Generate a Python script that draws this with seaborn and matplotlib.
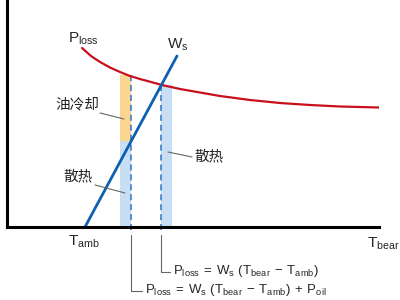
import matplotlib

matplotlib.use("Agg")
import matplotlib.pyplot as plt
import seaborn as sns

# P_loss curve (x = temperature, y = power, arbitrary units)
ploss_x = [75, 84, 93, 103, 113, 123, 133, 144, 155, 173, 193, 213, 243, 273, 303, 333, 372]
ploss_y = [179, 171, 165, 159.5, 155, 151, 148, 145, 142, 138, 134.5, 131, 127, 124, 122, 120.5, 119.5]

# W_s line: starts at T_amb
ws_x = [78, 170]
ws_y = [0, 171]

# operating points
t_oil = 124       # with oil cooling
t_nat = 154       # natural heat dissipation only
p_oil_top = 152   # P_loss at t_oil
ws_at_oil = 86    # W_s at t_oil
p_nat = 142       # P_loss at t_nat
bar_w = 11

RED = "#c8101c"
BLUE = "#0d5fb0"
DASH = "#2f73c4"
ORANGE = "#fbd690"
LIGHT = "#c7def4"
GRAY = "#666666"

sns.set_theme(style="white")
plt.rcParams["font.family"] = ["Liberation Sans", "Noto Sans CJK SC", "DejaVu Sans"]
plt.rcParams["mathtext.fontset"] = "custom"
plt.rcParams["mathtext.rm"] = "Liberation Sans"

fig = plt.figure(figsize=(4, 3), dpi=100)
ax = fig.add_axes([7 / 400, 73 / 300, 372 / 400, 227 / 300])
ax.set_xlim(0, 372)
ax.set_ylim(0, 227)

# bars
ax.bar(t_oil - bar_w, ws_at_oil, width=bar_w, align="edge", color=LIGHT, lw=0)
ax.bar(t_oil - bar_w, p_oil_top - ws_at_oil, width=bar_w, bottom=ws_at_oil, align="edge", color=ORANGE, lw=0)
ax.bar(t_nat, p_nat, width=bar_w, align="edge", color=LIGHT, lw=0)

# dashed verticals
ax.plot([t_oil, t_oil], [p_oil_top, -3], color=DASH, lw=1.1, ls=(0, (4, 2.5)), clip_on=False)
ax.plot([t_nat, t_nat], [p_nat, -3], color=DASH, lw=1.1, ls=(0, (4, 2.5)), clip_on=False)

sns.lineplot(x=ploss_x, y=ploss_y, color=RED, lw=1.6, ax=ax)
sns.lineplot(x=ws_x, y=ws_y, color=BLUE, lw=2.0, ax=ax)

# axes
for side in ["top", "right"]:
    ax.spines[side].set_visible(False)
for side in ["left", "bottom"]:
    ax.spines[side].set_color("black")
    ax.spines[side].set_linewidth(2.2)
ax.set_xticks([])
ax.set_yticks([])

fs = 9.5
ax.text(61, 188, r"$\mathrm{P_{loss}}$", fontsize=11, ha="left", va="center")
ax.text(160, 182, r"$\mathrm{W_s}$", fontsize=11, ha="left", va="center")
ax.text(61, -15, r"$\mathrm{T_{amb}}$", fontsize=11, ha="left", va="center", clip_on=False)
ax.text(360, -17, r"$\mathrm{T_{bear}}$", fontsize=11, ha="left", va="center", clip_on=False)

# callouts
cjk = ["Noto Sans CJK SC", "DejaVu Sans"]
ax.text(48, 123, "油冷却", fontsize=10.5, family=cjk, ha="left", va="center", color="#222222")
ax.plot([93, 117], [114, 108], color=GRAY, lw=0.8)
ax.text(56, 51, "散热", fontsize=10.5, family=cjk, ha="left", va="center", color="#222222")
ax.plot([88, 118], [42, 34], color=GRAY, lw=0.8)
ax.text(187, 71, "散热", fontsize=10.5, family=cjk, ha="left", va="center", color="#222222")
ax.plot([161, 185], [75, 70], color=GRAY, lw=0.8)

# formula leaders below the axis
ax.plot([t_oil, t_oil, t_oil + 11], [-8, -64, -64], color=GRAY, lw=0.8, clip_on=False)
ax.plot([t_nat, t_nat, t_nat + 9], [-8, -45, -45], color=GRAY, lw=0.8, clip_on=False)
ax.text(t_nat + 12, -44, r"$\mathrm{P_{loss}\,=\,W_s\ (T_{bear}\,-\,T_{amb})}$",
        fontsize=fs, ha="left", va="center", clip_on=False)
ax.text(t_oil + 14, -63, r"$\mathrm{P_{loss}\,=\,W_s\ (T_{bear}\,-\,T_{amb})\,+\,P_{oil}}$",
        fontsize=fs, ha="left", va="center", clip_on=False)

fig.savefig("out.png", dpi=100)
